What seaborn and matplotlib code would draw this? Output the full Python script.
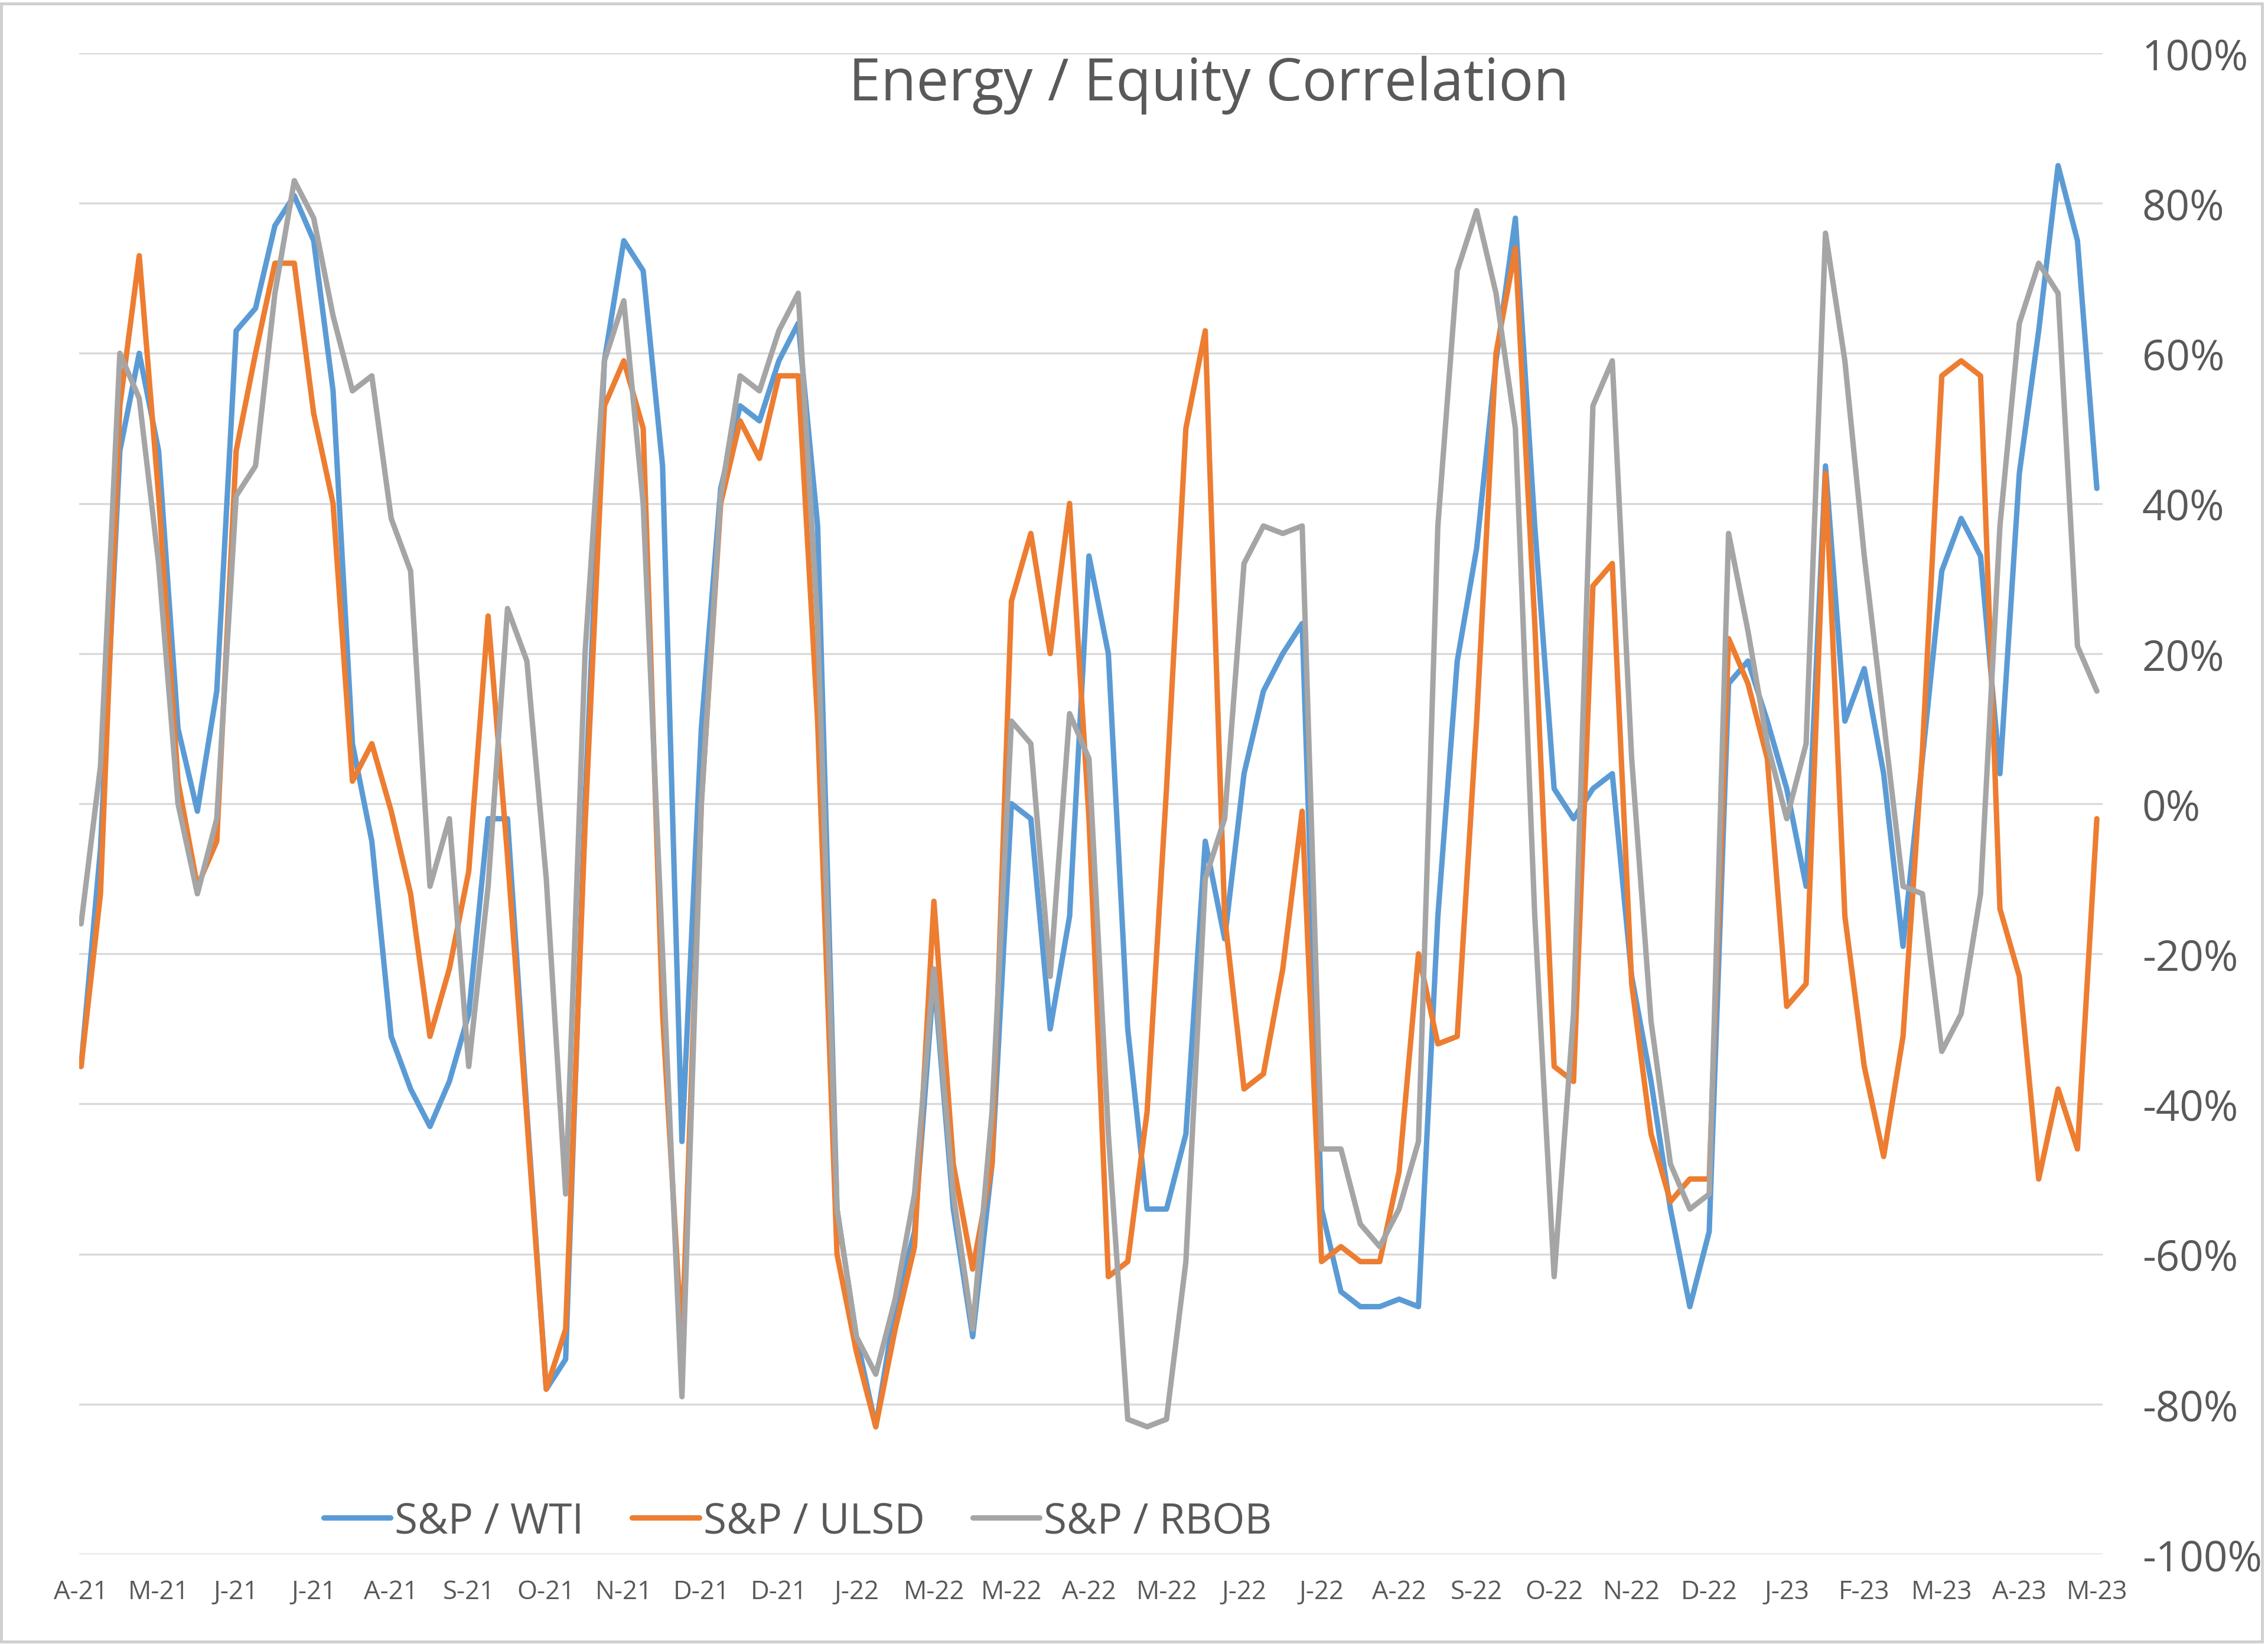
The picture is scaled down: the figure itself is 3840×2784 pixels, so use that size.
import numpy as np
import pandas as pd
import matplotlib
matplotlib.use("Agg")
import matplotlib.pyplot as plt
import seaborn as sns
from matplotlib.ticker import FuncFormatter, MultipleLocator
from matplotlib.patches import Rectangle

# month labels under the axis (one every 4 weekly points)
month_labels = ["A-21", "M-21", "J-21", "J-21", "A-21", "S-21", "O-21", "N-21", "D-21",
                "D-21", "J-22", "M-22", "M-22", "A-22", "M-22", "J-22", "J-22", "A-22",
                "S-22", "O-22", "N-22", "D-22", "J-23", "F-23", "M-23", "A-23", "M-23"]

# weekly correlation readings, in percent
wti = [-35, -6, 47, 60, 47, 10, -1, 15, 63, 66, 77, 81, 75, 55, 8, -5,
       -31, -38, -43, -37, -28, -2, -2, -41, -78, -74, 0, 59, 75, 71, 45, -45,
       10, 42, 53, 51, 59, 64, 37, -54, -71, -83, -67, -57, -23, -54, -71, -48,
       0, -2, -30, -15, 33, 20, -30, -54, -54, -44, -5, -18, 4, 15, 20, 24,
       -54, -65, -67, -67, -66, -67, -15, 19, 34, 59, 78, 37, 2, -2, 2, 4,
       -23, -37, -54, -67, -57, 16, 19, 11, 2, -11, 45, 11, 18, 4, -19, 6,
       31, 38, 33, 4, 44, 63, 85, 75, 42]
ulsd = [-35, -12, 53, 73, 41, 3, -11, -5, 47, 60, 72, 72, 52, 40, 3, 8,
        -1, -12, -31, -22, -9, 25, -7, -42, -78, -70, -3, 53, 59, 50, -28, -72,
        0, 40, 51, 46, 57, 57, 11, -60, -73, -83, -70, -59, -13, -48, -62, -48,
        27, 36, 20, 40, -2, -63, -61, -41, 2, 50, 63, -15, -38, -36, -22, -1,
        -61, -59, -61, -61, -49, -20, -32, -31, 11, 60, 74, 24, -35, -37, 29, 32,
        -24, -44, -53, -50, -50, 22, 16, 6, -27, -24, 44, -15, -35, -47, -31, 7,
        57, 59, 57, -14, -23, -50, -38, -46, -2]
rbob = [-16, 5, 60, 54, 32, 0, -12, -2, 41, 45, 68, 83, 78, 65, 55, 57,
        38, 31, -11, -2, -35, -11, 26, 19, -10, -52, 20, 59, 67, 40, -20, -79,
        0, 41, 57, 55, 63, 68, 24, -54, -71, -76, -66, -52, -22, -52, -70, -41,
        11, 8, -23, 12, 6, -44, -82, -83, -82, -61, -10, -2, 32, 37, 36, 37,
        -46, -46, -56, -59, -54, -45, 37, 71, 79, 68, 50, -15, -63, -28, 53, 59,
        6, -29, -48, -54, -52, 36, 23, 8, -2, 8, 76, 59, 33, 11, -11, -12,
        -33, -28, -12, 37, 64, 72, 68, 21, 15]

series_names = ["S&P / WTI", "S&P / ULSD", "S&P / RBOB"]
colors = ["#5B9BD5", "#ED7D31", "#A5A5A5"]

weeks = np.arange(len(wti))
df = pd.DataFrame({
    "week": np.tile(weeks, 3),
    "corr": wti + ulsd + rbob,
    "series": np.repeat(series_names, len(wti)),
})

sns.set_theme(style="white")
plt.rcParams["font.family"] = ["Open Sans", "DejaVu Sans"]
text_grey = "#595959"

fig = plt.figure(figsize=(12.8, 9.2833), dpi=300)
ax = fig.add_axes([0.0349, 0.0545, 0.8922, 0.9129])

sns.lineplot(data=df, x="week", y="corr", hue="series", palette=colors,
             linewidth=2.2, errorbar=None, ax=ax)

ax.set_xlim(-0.1, 104.3)
ax.set_ylim(-100, 100)
ax.yaxis.set_major_locator(MultipleLocator(20))
ax.yaxis.set_major_formatter(FuncFormatter(lambda v, p: "{}%".format(int(round(v)))))
ax.yaxis.tick_right()
ax.set_xticks(np.arange(0, len(wti), 4))
ax.set_xticklabels(month_labels)
ax.tick_params(axis="y", length=0, pad=16, labelsize=17, labelcolor=text_grey)
ax.tick_params(axis="x", length=0, pad=10, labelsize=10.5, labelcolor=text_grey)
ax.set_xlabel("")
ax.set_ylabel("")
ax.yaxis.grid(True, color="#D9D9D9", linewidth=0.8)
ax.xaxis.grid(False)
ax.set_axisbelow(True)
for s in ax.spines.values():
    s.set_visible(False)

ax.legend(loc="center left", bbox_to_anchor=(0.1335, 0.0745), bbox_transform=fig.transFigure,
          ncol=3, frameon=False, fontsize=17, handlelength=1.6, handletextpad=0.1,
          columnspacing=1.15, borderpad=0, labelcolor=text_grey)

fig.text(0.533, 1 - 59 / 1137, "Energy / Equity Correlation", ha="center", va="center",
         fontsize=23.5, color=text_grey)

fig.patches.append(Rectangle((0.0005, 0.0015), 0.997, 0.996, transform=fig.transFigure,
                             fill=False, edgecolor="#D0D0D0", linewidth=1.2))

fig.savefig("out.png", dpi=300)
plt.close()
